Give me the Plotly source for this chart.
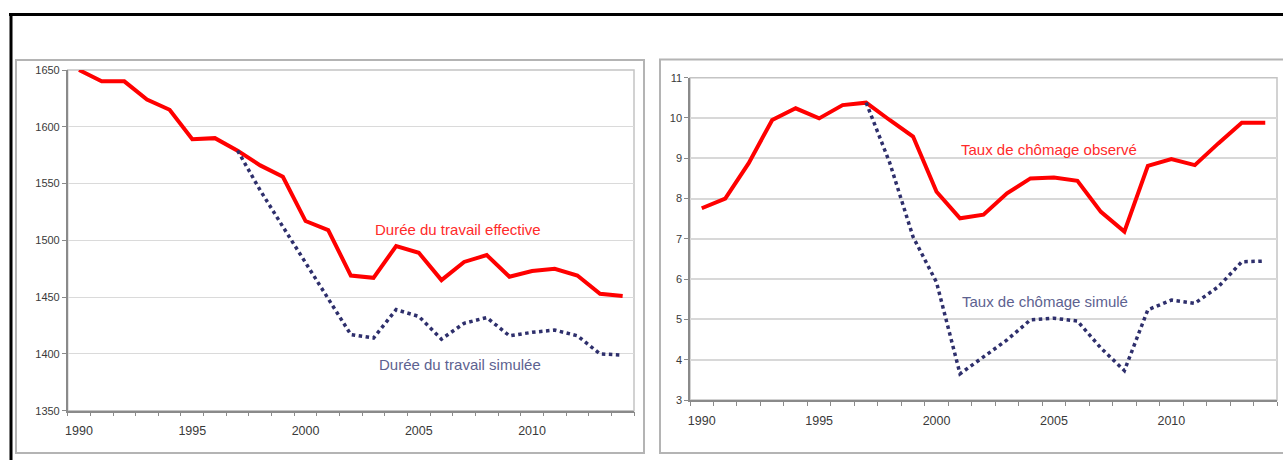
import plotly.graph_objects as go

# ---------------- data ----------------
years = list(range(1990, 2015))

duree_effective = [1650, 1640, 1640, 1624, 1615, 1589, 1590, 1579, 1566, 1556,
                   1517, 1509, 1469, 1467, 1495, 1489, 1465, 1481, 1487, 1468,
                   1473, 1475, 1469, 1453, 1451]

years_sim = list(range(1997, 2015))
duree_simulee = [1579, 1544, 1512, 1480, 1449, 1417, 1414, 1439, 1433, 1413,
                 1427, 1432, 1416, 1419, 1421, 1416, 1400, 1399]

chomage_observe = [7.76, 8.0, 8.88, 9.95, 10.24, 9.99, 10.32, 10.38, 9.95, 9.54,
                   8.17, 7.51, 7.6, 8.13, 8.5, 8.52, 8.44, 7.67, 7.18, 8.81,
                   8.98, 8.83, 9.37, 9.88, 9.88]

chomage_simule = [10.38, 8.9, 7.05, 5.92, 3.65, 4.08, 4.49, 4.99, 5.03, 4.96,
                  4.29, 3.73, 5.24, 5.48, 5.4, 5.81, 6.43, 6.45]

x_ticks = [1990, 1995, 2000, 2005, 2010]
x_ticktext = ["1990", "1995", "2000", "2005", "2010"]
left_yticks = [1350, 1400, 1450, 1500, 1550, 1600, 1650]
right_yticks = [3, 4, 5, 6, 7, 8, 9, 10, 11]

lbl_eff = "Durée du travail effective"
lbl_sim = "Durée du travail simulée"
lbl_obs = "Taux de chômage observé"
lbl_csim = "Taux de chômage simulé"

# ---------------- styling ----------------
W, H = 1283, 460
RED = "#ff0000"
NAVY = "#2e2f6c"
FONT = "Liberation Sans, Arial, sans-serif"


def px(x):
    return x / W


def py(y):
    return 1 - y / H


fig = go.Figure()

fig.add_trace(go.Scatter(x=years, y=duree_effective, mode="lines",
                         line=dict(color=RED, width=4), xaxis="x", yaxis="y",
                         showlegend=False, hoverinfo="skip"))
fig.add_trace(go.Scatter(x=years_sim, y=duree_simulee, mode="lines",
                         line=dict(color=NAVY, width=3.5, dash="3.5px,3.5px"),
                         xaxis="x", yaxis="y", showlegend=False, hoverinfo="skip"))
fig.add_trace(go.Scatter(x=years, y=chomage_observe, mode="lines",
                         line=dict(color=RED, width=4), xaxis="x2", yaxis="y2",
                         showlegend=False, hoverinfo="skip"))
fig.add_trace(go.Scatter(x=years_sim, y=chomage_simule, mode="lines",
                         line=dict(color=NAVY, width=3.5, dash="3.5px,3.5px"),
                         xaxis="x2", yaxis="y2", showlegend=False, hoverinfo="skip"))

axis_common_x = dict(
    range=[1989.5, 2014.5], tickvals=x_ticks, ticktext=x_ticktext,
    ticks="", showgrid=False, zeroline=False, showline=True, automargin=False,
    linecolor="#8a8a8a", linewidth=1.5,
    tickfont=dict(family=FONT, size=12.5, color="#3a3a3a"),
    ticklabelstandoff=8,
    minor=dict(ticks="outside", tick0=1989.5, dtick=1, ticklen=4,
               tickcolor="#8a8a8a", tickwidth=1.2, showgrid=False),
)

fig.update_layout(
    width=W, height=H, autosize=False,
    margin=dict(l=0, r=0, t=0, b=0, pad=0),
    paper_bgcolor="white", plot_bgcolor="rgba(0,0,0,0)",
    xaxis=dict(axis_common_x, domain=[px(67.7), px(634)], anchor="y"),
    yaxis=dict(range=[1350, 1650], tickvals=left_yticks, domain=[py(410.7), py(70)],
               anchor="x", showgrid=True, gridcolor="#dadada", gridwidth=1.2,
               zeroline=False, showline=True, linecolor="#8a8a8a", linewidth=1.5,
               ticks="outside", ticklen=4, tickcolor="#8a8a8a", automargin=False,
               tickfont=dict(family=FONT, size=11, color="#3a3a3a")),
    xaxis2=dict(axis_common_x, domain=[px(690), px(1277)], anchor="y2"),
    yaxis2=dict(range=[3, 11], tickvals=right_yticks, domain=[py(400), py(77.7)],
                anchor="x2", showgrid=True, gridcolor="#d8d8d8", gridwidth=1.6,
                zeroline=False, showline=True, linecolor="#8a8a8a", linewidth=1.5,
                ticks="outside", ticklen=4, tickcolor="#8a8a8a", automargin=False,
                tickfont=dict(family=FONT, size=11, color="#3a3a3a")),
)

shapes = [
    # outer black frame (top and left)
    dict(type="line", xref="paper", yref="paper", x0=px(9), x1=px(1290),
         y0=py(14.5), y1=py(14.5), line=dict(color="black", width=3)),
    dict(type="line", xref="paper", yref="paper", x0=px(11), x1=px(11),
         y0=py(13), y1=py(470), line=dict(color="black", width=3)),
    # panel frames
    dict(type="rect", xref="paper", yref="paper", x0=px(16), x1=px(644),
         y0=py(453), y1=py(60), line=dict(color="#b4b4b4", width=2), layer="below"),
    dict(type="rect", xref="paper", yref="paper", x0=px(660), x1=px(1295),
         y0=py(453), y1=py(59.5), line=dict(color="#b4b4b4", width=2), layer="below"),
    # plot-area borders
    dict(type="rect", xref="x domain", yref="y domain", x0=0, x1=1, y0=0, y1=1,
         line=dict(color="#c4c4c4", width=1.5), layer="below"),
    dict(type="rect", xref="x2 domain", yref="y2 domain", x0=0, x1=1, y0=0, y1=1,
         line=dict(color="#c4c4c4", width=1.5), layer="below"),
]
fig.update_layout(shapes=shapes)

ann_font = dict(family=FONT, size=15)
annotations = [
    dict(text=lbl_eff, x=px(458), y=py(229)),
    dict(text=lbl_sim, x=px(459.5), y=py(364)),
    dict(text=lbl_obs, x=px(1049), y=py(149)),
    dict(text=lbl_csim, x=px(1045), y=py(301)),
]
colors = ["#ff2a2a", "#5d6290", "#ff2a2a", "#5d6290"]
for a, c in zip(annotations, colors):
    a.update(xref="paper", yref="paper", xanchor="center", yanchor="middle",
             showarrow=False, font=dict(ann_font, color=c))
fig.update_layout(annotations=annotations)

fig.write_html("out.html",
               config={"displayModeBar": False},
               post_script="document.body.style.margin='0px';"
                           "document.body.style.overflow='hidden';")
